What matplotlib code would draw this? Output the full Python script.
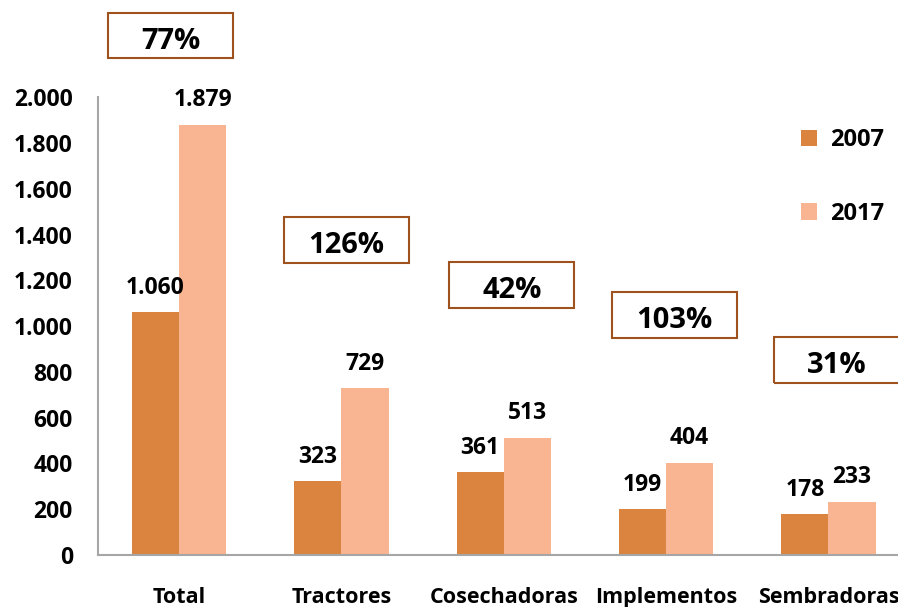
import matplotlib.pyplot as plt
from matplotlib.patches import Rectangle

# Datos
categorias = ['Total', 'Tractores', 'Cosechadoras', 'Implementos', 'Sembradoras']
valores_2007 = [1060, 323, 361, 199, 178]
valores_2017 = [1879, 729, 513, 404, 233]
variacion = ['77%', '126%', '42%', '103%', '31%']
# posición (centro) de cada recuadro de variación, en unidades del gráfico
caja_x = [-0.05, 1.03, 2.05, 3.05, 4.05]
caja_y = [2270, 1376, 1179, 1048, 852]

color_2007 = '#DA843F'
color_2017 = '#F9B591'
color_caja = '#A0521E'

plt.rcParams['font.family'] = ['Open Sans', 'DejaVu Sans']


def fmt_miles(v):
    return f'{v:,.0f}'.replace(',', '.')


fig = plt.figure(figsize=(8.98, 6.07), dpi=100)
ax = fig.add_axes([0.109, 0.0857, 0.904, 0.754])

x = list(range(len(categorias)))
ancho = 0.29
b1 = ax.bar([i - ancho / 2 for i in x], valores_2007, ancho, color=color_2007, label='2007')
b2 = ax.bar([i + ancho / 2 for i in x], valores_2017, ancho, color=color_2017, label='2017')

for barras in (b1, b2):
    for r in barras:
        ax.annotate(fmt_miles(r.get_height()),
                    (r.get_x() + r.get_width() / 2, r.get_height()),
                    xytext=(0, 9), textcoords='offset points',
                    ha='center', va='bottom', fontsize=16.5, fontweight='bold')

# recuadros con el porcentaje de variación
w_caja, h_caja = 0.77, 200
for cx, cy, txt in zip(caja_x, caja_y, variacion):
    ax.add_patch(Rectangle((cx - w_caja / 2, cy - h_caja / 2), w_caja, h_caja,
                           fill=False, edgecolor=color_caja, linewidth=1.5, clip_on=False))
    ax.text(cx, cy - 25, txt, ha='center', va='center', fontsize=21,
            fontweight='bold', clip_on=False)

ax.set_xlim(-0.5, 4.5)
ax.set_ylim(0, 2000)
ax.set_yticks(range(0, 2001, 200))
ax.set_yticklabels([fmt_miles(v) for v in range(0, 2001, 200)])
ax.set_xticks(x)
ax.set_xticklabels(categorias)
ax.tick_params(axis='both', length=0)
ax.tick_params(axis='y', pad=18, labelsize=16.5)
ax.tick_params(axis='x', pad=23, labelsize=15.5)
for lbl in ax.get_xticklabels() + ax.get_yticklabels():
    lbl.set_fontweight('bold')

for s in ('top', 'right'):
    ax.spines[s].set_visible(False)
for s in ('left', 'bottom'):
    ax.spines[s].set_color('#A6A6A6')
    ax.spines[s].set_linewidth(1.5)

leg = fig.legend(loc='upper left', bbox_to_anchor=(0.868, 0.824), frameon=False,
                 handlelength=0.7, handleheight=0.7, handletextpad=0.55,
                 labelspacing=2.1, prop={'size': 17, 'weight': 'bold'})

fig.savefig('out.png', dpi=100)
